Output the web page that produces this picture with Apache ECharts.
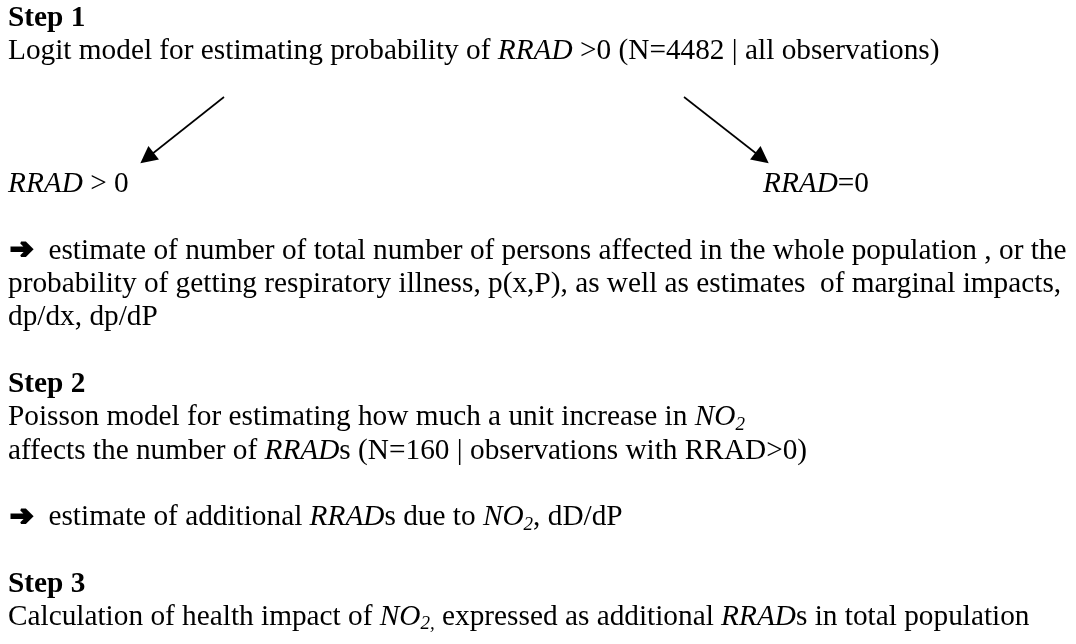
<!DOCTYPE html>
<html>
<head>
<meta charset="utf-8">
<script src="https://cdn.jsdelivr.net/npm/echarts@6/dist/echarts.min.js"></script>
<style>
  html, body { margin: 0; background: #fff; }
  #chart { width: 1076px; height: 644px; }
</style>
</head>
<body>
<div id="chart"></div>
<script>
// ---- content ----
// rich tags: b = bold, i = italic, s = italic subscript, a = arrow glyph
const rowText = [
  '{b|Step 1}',
  'Logit model for estimating probability of {i|RRAD} >0 (N=4482 | all observations)',
  '{i|RRAD} > 0',
  '{i|RRAD}=0',
  '{a|➔}estimate of number of total number of persons affected in the whole population , or the',
  'probability of getting respiratory illness, p(x,P), as well as estimates  of marginal impacts,',
  'dp/dx, dp/dP',
  '{b|Step 2}',
  'Poisson model for estimating how much a unit increase in {i|NO}{s|2}',
  'affects the number of {i|RRAD}s (N=160 | observations with RRAD>0)',
  '{a|➔}estimate of additional {i|RRAD}s due to {i|NO}{s|2}, dD/dP',
  '{b|Step 3}',
  'Calculation of health impact of {i|NO}{s|2,} expressed as additional {i|RRAD}s in total population'
]
// line number of each row in the page and its column
const rowLine = [0, 1, 5, 5, 7, 8, 9, 11, 12, 13, 15, 17, 18]
const rowCol = [0, 0, 0, 1, 0, 0, 0, 0, 0, 0, 0, 0, 0]

// the two branch arrows (from -> to), page pixels
const arrowFrom = [[224, 97], [684, 97]]
const arrowTo = [[147, 158], [762, 158]]

// ---- layout ----
const W = 1076
const H = 644
const colX = [8, 763]
const lineStep = 33.3
const firstTop = 1.5
const fontSize = 29.3
const serif = 'Liberation Serif'

const base = { fontFamily: serif, fontSize: fontSize, fontStyle: 'normal', fontWeight: 'normal', fill: '#000', lineHeight: 33 }
const rich = {
  b: { ...base, fontWeight: 'bold' },
  i: { ...base, fontStyle: 'italic' },
  s: { ...base, fontStyle: 'italic', fontSize: 19, lineHeight: 19, verticalAlign: 'bottom' },
  // heavy arrow (stroked to thicken it), followed by a word gap
  a: { ...base, fontFamily: 'DejaVu Sans', fontWeight: 'bold', fontSize: 28, stroke: '#000', lineWidth: 2.2, padding: [0, 15, 0, 2] }
}

const chart = echarts.init(document.getElementById('chart'))

const textEls = rowText.map((t, k) => ({
  type: 'text',
  x: colX[rowCol[k]],
  y: firstTop + rowLine[k] * lineStep,
  silent: true,
  style: { ...base, text: t, verticalAlign: 'top', align: 'left', rich: rich }
}))

chart.setOption({
  backgroundColor: '#fff',
  animation: false,
  grid: { left: 0, right: 0, top: 0, bottom: 0 },
  xAxis: { type: 'value', min: 0, max: W, show: false },
  yAxis: { type: 'value', min: 0, max: H, inverse: true, show: false },
  graphic: textEls,
  series: [
    {
      type: 'lines',
      coordinateSystem: 'cartesian2d',
      symbol: ['none', 'triangle'],
      symbolSize: [12, 17],
      lineStyle: { color: '#000', width: 1.6, opacity: 1 },
      itemStyle: { color: '#000' },
      data: arrowFrom.map((p, i) => ({ coords: [p, arrowTo[i]] }))
    }
  ]
})
</script>
</body>
</html>
